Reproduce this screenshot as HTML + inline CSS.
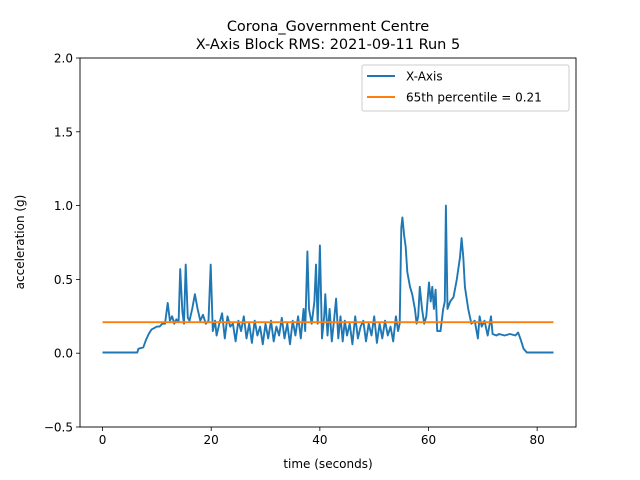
<!DOCTYPE html>
<html><head><meta charset="utf-8"><style>
body{margin:0;background:#fff;}
svg{display:block;font-family:"DejaVu Sans","Liberation Sans",sans-serif;}
</style></head><body>
<svg id="chart" width="640" height="480" viewBox="0 0 640 480">
<rect width="640" height="480" fill="#fff"/>
<text x="328" y="31" text-anchor="middle" font-size="14.5">Corona_Government Centre</text>
<text x="328" y="49" text-anchor="middle" font-size="14.5">X-Axis Block RMS: 2021-09-11 Run 5</text>
<g id="plot"></g>
<rect x="80" y="58" width="496" height="369" fill="none" stroke="#000" stroke-width="0.9"/>
<text x="328" y="468" text-anchor="middle" font-size="12">time (seconds)</text>
<text transform="translate(24,242) rotate(-90)" text-anchor="middle" font-size="12">acceleration (g)</text>
<g>
<rect x="362" y="65" width="207" height="46" rx="2" fill="#fff" stroke="#ccc" stroke-width="1"/>
<line x1="367" y1="76" x2="395" y2="76" stroke="#1f77b4" stroke-width="1.9"/>
<text x="406" y="80.5" font-size="12">X-Axis</text>
<line x1="367" y1="97" x2="395" y2="97" stroke="#ff7f0e" stroke-width="1.9"/>
<text x="406" y="101.5" font-size="12">65th percentile = 0.21</text>
</g>
</svg>
<script>
const times = [0,6.4,6.6,7.5,8,8.5,9,9.5,10,10.5,11,11.5,12,12.4,12.8,13.2,13.6,14,14.3,14.7,15,15.3,15.7,16,16.5,17,17.5,18,18.5,19,19.5,19.9,20.3,20.7,21,21.5,22,22.5,23,23.5,24,24.5,25,25.5,26,26.5,27,27.5,28,28.5,29,29.5,30,30.5,31,31.5,32,32.5,33,33.5,34,34.5,35,35.5,36,36.5,37,37.3,37.7,38,38.5,39,39.3,39.6,40,40.4,40.8,41,41.4,41.8,42.2,42.6,43,43.4,43.8,44.2,44.6,45,45.5,46,46.5,47,47.5,48,48.5,49,49.5,50,50.5,51,51.5,52,52.5,53,53.5,54,54.4,54.7,55,55.2,55.5,55.8,56.1,56.6,57,57.5,57.8,58.1,58.4,58.8,59.2,59.6,60.1,60.4,60.7,61,61.3,61.6,62.2,62.7,63,63.2,63.5,64,64.6,65.2,65.8,66.1,66.4,66.7,67.3,67.9,68.5,69.1,69.4,69.8,70.3,70.9,71.5,71.8,72.5,73,74,75,76,76.5,76.9,77.5,78.1,83];
const values = [0.005,0.005,0.03,0.04,0.09,0.13,0.16,0.17,0.18,0.18,0.2,0.2,0.34,0.22,0.25,0.2,0.23,0.21,0.57,0.28,0.2,0.6,0.24,0.22,0.3,0.4,0.3,0.22,0.26,0.2,0.22,0.6,0.15,0.22,0.12,0.2,0.27,0.1,0.25,0.18,0.2,0.08,0.22,0.15,0.25,0.1,0.2,0.07,0.22,0.12,0.18,0.06,0.2,0.1,0.22,0.08,0.18,0.12,0.24,0.1,0.2,0.06,0.22,0.12,0.25,0.1,0.3,0.15,0.69,0.3,0.2,0.35,0.6,0.2,0.73,0.1,0.25,0.4,0.12,0.3,0.08,0.22,0.37,0.1,0.25,0.08,0.22,0.12,0.2,0.06,0.25,0.1,0.18,0.22,0.08,0.2,0.12,0.25,0.07,0.2,0.1,0.22,0.12,0.18,0.08,0.25,0.15,0.2,0.85,0.92,0.8,0.72,0.55,0.45,0.4,0.3,0.2,0.25,0.45,0.3,0.2,0.25,0.48,0.35,0.45,0.3,0.43,0.15,0.15,0.3,0.35,1.0,0.3,0.35,0.38,0.5,0.65,0.78,0.65,0.45,0.3,0.2,0.22,0.1,0.25,0.18,0.22,0.12,0.25,0.13,0.12,0.13,0.12,0.13,0.12,0.14,0.1,0.03,0.005,0.005];
const pctValue = 0.21;
const pctRange = [0,83];
const xTicks = [0,20,40,60,80];
const yTicks = [-0.5,0.0,0.5,1.0,1.5,2.0];
const X0=-4.15,X1=87.15,Y0=-0.5,Y1=2.0;
const L=80,R=576,T=58,B=427;
const sx=v=>L+(v-X0)/(X1-X0)*(R-L);
const sy=v=>B-(v-Y0)/(Y1-Y0)*(B-T);
const NS='http://www.w3.org/2000/svg';
const g=document.getElementById('plot');
function mk(tag,attrs){const e=document.createElementNS(NS,tag);for(const k in attrs)e.setAttribute(k,attrs[k]);g.appendChild(e);return e;}
xTicks.forEach(v=>{
  const t=mk('line',{x1:sx(v),x2:sx(v),y1:B,y2:B+4,stroke:'#000','stroke-width':0.8});
  
  
  const l=mk('text',{x:sx(v),y:B+17,'text-anchor':'middle','font-size':12});
  l.textContent=String(v);
  
  
});
yTicks.forEach(v=>{
  const t=mk('line',{x1:L-4,x2:L,y1:sy(v),y2:sy(v),stroke:'#000','stroke-width':0.8});
  
  
  const l=mk('text',{x:L-7,y:sy(v)+4.5,'text-anchor':'end','font-size':12});
  l.textContent=(v<0?'\u22120.5':v.toFixed(1));
  
  
});
const pts=times.map((t,i)=>sx(t).toFixed(1)+','+sy(values[i]).toFixed(1)).join(' ');
const line=mk('polyline',{points:pts,fill:'none',stroke:'#1f77b4','stroke-width':1.9,'stroke-linejoin':'round'});


const p=mk('line',{x1:sx(pctRange[0]),x2:sx(pctRange[1]),y1:sy(pctValue),y2:sy(pctValue),stroke:'#ff7f0e','stroke-width':1.9});


</script>
</body></html>
